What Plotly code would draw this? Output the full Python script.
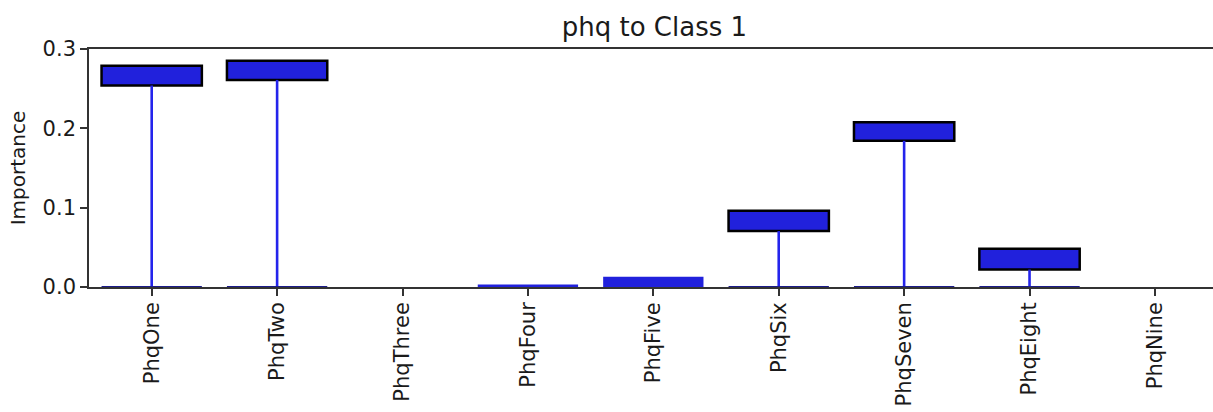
import plotly.graph_objects as go

# Feature names on the x axis
features = ["PhqOne", "PhqTwo", "PhqThree", "PhqFour", "PhqFive",
            "PhqSix", "PhqSeven", "PhqEight", "PhqNine"]

# Importance spread per feature: lower / upper edge of the outlined box
box_low = [0.254, 0.261, None, None, None, 0.0705, 0.1843, 0.022, None]
box_high = [0.279, 0.2852, None, None, None, 0.096, 0.2077, 0.0483, None]

# Plain bars starting at zero (0 draws a flat line on the axis)
base_bar = [0.0, 0.0, None, 0.003, 0.0128, 0.0, 0.0, 0.0, None]

y_ticks = [0.0, 0.1, 0.2, 0.3]

BLUE = "#2121dc"
WHISKER = "#2424ec"
NAVY = "#1c1c8a"
BAR_W = 0.8

idx = list(range(len(features)))

fig = go.Figure()

# plain bars from zero (PhqFour, PhqFive)
pb_x = [i for i, v in zip(idx, base_bar) if v not in (None, 0.0)]
pb_y = [v for v in base_bar if v not in (None, 0.0)]
fig.add_trace(go.Bar(
    x=pb_x, y=pb_y, width=BAR_W,
    marker=dict(color=BLUE, line=dict(width=0)),
    showlegend=False, hoverinfo="skip",
))

# outlined boxes spanning low..high
bx_x = [i for i, lo in zip(idx, box_low) if lo is not None]
bx_base = [lo for lo in box_low if lo is not None]
bx_h = [hi - lo for lo, hi in zip(box_low, box_high) if lo is not None]
fig.add_trace(go.Bar(
    x=bx_x, y=bx_h, base=bx_base, width=BAR_W,
    marker=dict(color=BLUE, line=dict(color="black", width=2.5)),
    showlegend=False, hoverinfo="skip",
))

# whiskers from zero up to the box bottom
wx, wy = [], []
for i, lo in zip(idx, box_low):
    if lo is None:
        continue
    wx += [i, i, None]
    wy += [0.0, lo, None]
fig.add_trace(go.Scatter(
    x=wx, y=wy, mode="lines",
    line=dict(color=WHISKER, width=2.6),
    showlegend=False, hoverinfo="skip",
))

# flat zero-height bars drawn as a line along the axis
zx, zy = [], []
for i, v in zip(idx, base_bar):
    if v == 0.0:
        zx += [i - BAR_W / 2, i + BAR_W / 2, None]
        zy += [v, v, None]
fig.add_trace(go.Scatter(
    x=zx, y=zy, mode="lines",
    line=dict(color=NAVY, width=2),
    showlegend=False, hoverinfo="skip",
))

FONT = "DejaVu Sans"
AX = "#333333"
TXT = "#1a1a1a"

fig.update_layout(
    width=1213, height=412,
    margin=dict(l=89, r=0, t=48.5, b=124.5, autoexpand=False),
    paper_bgcolor="white", plot_bgcolor="white",
    font=dict(family=FONT, size=20, color=TXT),
    barmode="overlay",
    title=dict(
        text="phq to Class 1",
        font=dict(family=FONT, size=26, color=TXT),
        x=0.503, xref="paper", xanchor="center",
        y=1 - 27 / 412, yref="container", yanchor="middle",
    ),
    xaxis=dict(
        range=[-0.5, 8.463],
        tickmode="array", tickvals=idx, ticktext=features,
        tickangle=-90,
        ticks="outside", ticklen=7, tickwidth=1.6, tickcolor=AX,
        ticklabelstandoff=-2,
        showline=True, linecolor=AX, linewidth=1.6, mirror=True,
        showgrid=False, zeroline=False,
        layer="below traces",
        tickfont=dict(family=FONT, size=21, color=TXT),
        automargin=False,
    ),
    yaxis=dict(
        range=[0, 0.3],
        tickmode="array", tickvals=y_ticks,
        ticktext=[f"{t:.1f}" for t in y_ticks],
        ticks="outside", ticklen=7, tickwidth=1.6, tickcolor=AX,
        showline=True, linecolor=AX, linewidth=1.6, mirror=False,
        showgrid=False, zeroline=False,
        tickfont=dict(family=FONT, size=21, color=TXT),
        title=dict(text="Importance", standoff=12,
                   font=dict(family=FONT, size=20, color=TXT)),
        automargin=False,
    ),
)

fig.write_html("out.html")
